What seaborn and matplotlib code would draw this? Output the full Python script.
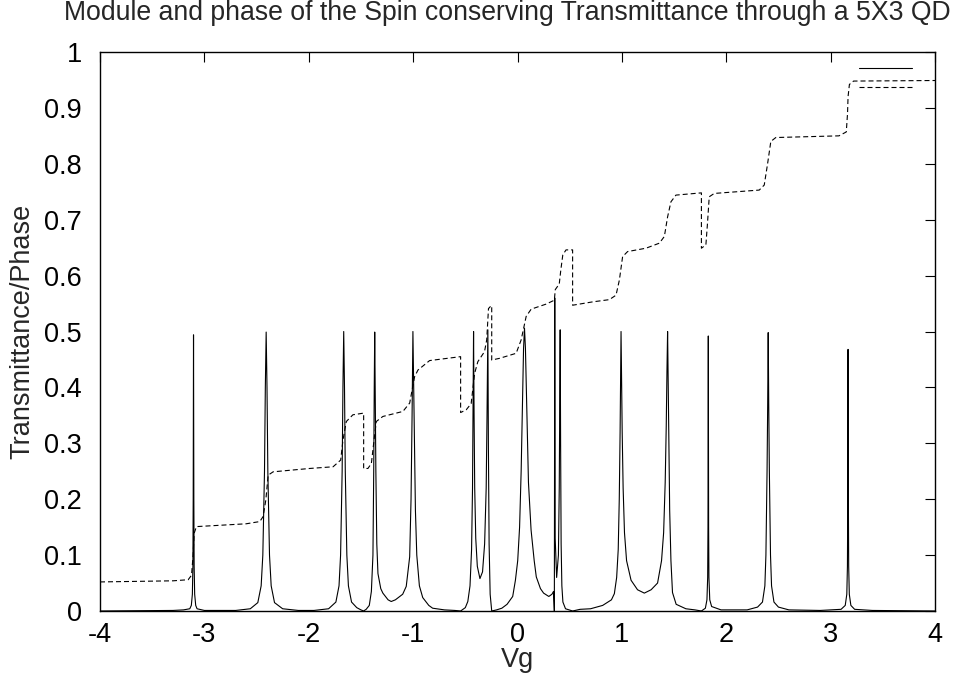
import matplotlib
matplotlib.use("Agg")
import matplotlib.pyplot as plt
import pandas as pd
import seaborn as sns

# transmittance module
vg_trans = [
    -4.0, -3.30, -3.20, -3.14, -3.125, -3.115, -3.110, -3.107, -3.104, -3.101, -3.098, -3.093, -3.083, -3.07, -3.0,
    -2.70, -2.56, -2.488, -2.456, -2.440, -2.424, -2.416, -2.408, -2.400, -2.392, -2.376, -2.360, -2.328, -2.25, -2.10,
    -1.95, -1.81, -1.74, -1.71, -1.695, -1.68, -1.6725, -1.665, -1.6575, -1.65, -1.635, -1.62, -1.59, -1.54, -1.50,
    -1.475, -1.45, -1.42, -1.40, -1.385, -1.3775, -1.3725, -1.368, -1.3635, -1.357, -1.348, -1.337, -1.31, -1.29,
    -1.24, -1.21, -1.17, -1.10, -1.066, -1.033, -1.02, -1.01, -1.002, -0.996, -0.988, -0.978, -0.965, -0.94, -0.908,
    -0.85, -0.813, -0.70, -0.60,
    -0.545, -0.50, -0.476, -0.455, -0.440, -0.431, -0.426, -0.421, -0.416, -0.410, -0.400, -0.385, -0.36, -0.335,
    -0.315, -0.300, -0.292, -0.284, -0.279, -0.272, -0.262, -0.247,
    -0.20, -0.15, -0.10, -0.046, -0.02, 0.002, 0.02, 0.035, 0.048, 0.058, 0.067, 0.076, 0.09, 0.105, 0.13, 0.16,
    0.18, 0.22, 0.25, 0.30, 0.33, 0.345, 0.353, 0.357, 0.361, 0.375, 0.392, 0.400, 0.405, 0.409, 0.413, 0.418,
    0.425, 0.435, 0.46, 0.528,
    0.60, 0.70, 0.816, 0.90, 0.928, 0.95, 0.965, 0.975, 0.983, 0.988, 0.992, 0.997, 1.003, 1.012, 1.025, 1.045,
    1.088, 1.15, 1.215, 1.28, 1.342, 1.38, 1.40, 1.415, 1.425, 1.432, 1.438, 1.443, 1.45, 1.458, 1.47, 1.485,
    1.52, 1.613, 1.70, 1.762,
    1.80, 1.815, 1.822, 1.825, 1.828, 1.831, 1.834, 1.842, 1.86, 1.95,
    2.20, 2.30, 2.347, 2.37, 2.38, 2.391, 2.397, 2.402, 2.407, 2.413, 2.424, 2.434, 2.457, 2.50, 2.60, 2.90,
    3.10, 3.14, 3.155, 3.161, 3.164, 3.167, 3.170, 3.173, 3.179, 3.194, 3.23, 3.40, 4.0,
]
trans = [
    0.0, 0.001, 0.002, 0.004, 0.01, 0.03, 0.08, 0.2, 0.494, 0.2, 0.08, 0.03, 0.01, 0.004, 0.001,
    0.001, 0.004, 0.015, 0.045, 0.1, 0.25, 0.4, 0.499, 0.4, 0.25, 0.1, 0.045, 0.015, 0.004, 0.001,
    0.001, 0.004, 0.016, 0.045, 0.1, 0.25, 0.4, 0.5, 0.4, 0.25, 0.1, 0.045, 0.016, 0.006, 0.002,
    0.0, 0.003, 0.01, 0.035, 0.1, 0.25, 0.4, 0.499, 0.4, 0.25, 0.12, 0.067, 0.04, 0.032,
    0.02, 0.017, 0.02, 0.03, 0.044, 0.097, 0.2, 0.35, 0.5, 0.42, 0.3, 0.18, 0.1, 0.045, 0.024,
    0.01, 0.005, 0.002, 0.001,
    0.0, 0.006, 0.017, 0.045, 0.11, 0.22, 0.35, 0.5, 0.35, 0.22, 0.13, 0.08, 0.058, 0.07,
    0.12, 0.22, 0.35, 0.503, 0.3, 0.12, 0.03, 0.0,
    0.002, 0.005, 0.012, 0.026, 0.055, 0.09, 0.15, 0.25, 0.38, 0.47, 0.506, 0.47, 0.35, 0.23, 0.145, 0.09,
    0.061, 0.04, 0.032, 0.026, 0.03, 0.035, 0.0, 0.56, 0.13, 0.06, 0.1, 0.22, 0.38, 0.503, 0.3, 0.12,
    0.045, 0.016, 0.004, 0.0,
    0.003, 0.004, 0.01, 0.02, 0.031, 0.06, 0.11, 0.2, 0.32, 0.42, 0.5, 0.42, 0.32, 0.22, 0.14, 0.09,
    0.055, 0.038, 0.032, 0.038, 0.05, 0.09, 0.14, 0.23, 0.33, 0.43, 0.5, 0.42, 0.3, 0.18, 0.09, 0.033,
    0.012, 0.004, 0.002, 0.0,
    0.005, 0.02, 0.06, 0.15, 0.492, 0.15, 0.06, 0.02, 0.008, 0.002,
    0.002, 0.007, 0.016, 0.045, 0.1, 0.25, 0.37, 0.498, 0.37, 0.25, 0.1, 0.045, 0.016, 0.007, 0.002, 0.001,
    0.003, 0.01, 0.03, 0.08, 0.2, 0.468, 0.2, 0.08, 0.03, 0.01, 0.003, 0.001, 0.0,
]

# phase (dashed)
vg_phase = [
    -4.0, -3.30, -3.155, -3.123, -3.108, -3.098, -3.076, -2.884, -2.60, -2.469, -2.437, -2.411, -2.389, -2.341,
    -1.99, -1.767, -1.694, -1.672, -1.64, -1.577, -1.474, -1.474, -1.433, -1.40, -1.378, -1.353, -1.29, -1.098,
    -1.033, -0.986, -0.954, -0.842, -0.545, -0.545, -0.491, -0.444, -0.411, -0.38, -0.316, -0.295, -0.278, -0.253,
    -0.247, -0.247, -0.172, -0.013, 0.035, 0.083, 0.131, 0.274, 0.353, 0.362, 0.40, 0.415, 0.434, 0.465, 0.528,
    0.528, 0.72, 0.88, 0.944, 0.976, 1.007, 1.055, 1.231, 1.359, 1.407, 1.438, 1.47, 1.518, 1.762, 1.762, 1.805,
    1.82, 1.837, 1.885, 2.316, 2.364, 2.396, 2.427, 2.475, 3.08, 3.15, 3.162, 3.167, 3.18, 3.22, 4.0,
]
phase = [
    0.052, 0.054, 0.056, 0.064, 0.10, 0.139, 0.151, 0.153, 0.156, 0.16, 0.169, 0.199, 0.243, 0.249,
    0.255, 0.258, 0.27, 0.306, 0.339, 0.351, 0.354, 0.255, 0.255, 0.264, 0.30, 0.339, 0.348, 0.357,
    0.372, 0.419, 0.431, 0.448, 0.455, 0.355, 0.36, 0.371, 0.425, 0.446, 0.464, 0.485, 0.541, 0.546,
    0.546, 0.449, 0.452, 0.461, 0.485, 0.527, 0.54, 0.549, 0.556, 0.575, 0.585, 0.61, 0.637, 0.646, 0.646,
    0.547, 0.553, 0.557, 0.565, 0.592, 0.634, 0.643, 0.649, 0.658, 0.67, 0.705, 0.732, 0.744, 0.748, 0.649, 0.655,
    0.693, 0.741, 0.747, 0.753, 0.762, 0.80, 0.84, 0.847, 0.85, 0.857, 0.89, 0.92, 0.942, 0.948, 0.949,
]

x_ticks = [-4, -3, -2, -1, 0, 1, 2, 3, 4]
y_ticks = [0, 0.1, 0.2, 0.3, 0.4, 0.5, 0.6, 0.7, 0.8, 0.9, 1]
y_ticklabels = ["0", "0.1", "0.2", "0.3", "0.4", "0.5", "0.6", "0.7", "0.8", "0.9", "1"]

sns.set_style("white")
plt.rcParams["font.family"] = ["Liberation Sans", "DejaVu Sans"]
plt.rcParams["axes.unicode_minus"] = False

fs = 19.5
fig = plt.figure(figsize=(9.67, 6.77), dpi=100)
ax = fig.add_axes([100 / 967, 66 / 677, 835 / 967, 559 / 677])

df_t = pd.DataFrame({"Vg": vg_trans, "T": trans})
df_p = pd.DataFrame({"Vg": vg_phase, "phase": phase})

sns.lineplot(data=df_t, x="Vg", y="T", estimator=None, sort=False,
             color="black", linewidth=0.8, ax=ax)
sns.lineplot(data=df_p, x="Vg", y="phase", estimator=None, sort=False,
             color="black", linewidth=0.8, ax=ax)
line_t, line_p = ax.lines[0], ax.lines[1]
line_p.set_dashes([4.5, 2.7])

ax.set_xlim(-4, 4)
ax.set_ylim(0, 1)
ax.set_xticks(x_ticks)
ax.set_xticklabels([str(t) for t in x_ticks])
ax.set_yticks(y_ticks)
ax.set_yticklabels(y_ticklabels)
ax.tick_params(direction="in", length=7, width=0.8, top=True, right=True,
               labelsize=fs, colors="black")
ax.tick_params(axis="y", pad=13)
ax.tick_params(axis="x", pad=8)
for sp in ax.spines.values():
    sp.set_linewidth(1.0)
    sp.set_color("black")

ax.set_xlabel("Vg", fontsize=fs, labelpad=-1)
ax.set_ylabel("Transmittance/Phase", fontsize=fs, labelpad=6)
fig.text(507 / 967, 1 - 13 / 677,
         "Module and phase of the Spin conserving Transmittance through a 5X3 QD",
         ha="center", va="center", fontsize=19.2)

leg = ax.legend(handles=[line_t, line_p], labels=["", ""], loc="upper left",
                bbox_to_anchor=(859 / 967, 1 - 62 / 677), bbox_transform=fig.transFigure,
                frameon=False, fontsize=12, handlelength=3.2, handletextpad=0,
                borderpad=0, borderaxespad=0, labelspacing=0.25)

fig.savefig("out.png", dpi=100)
